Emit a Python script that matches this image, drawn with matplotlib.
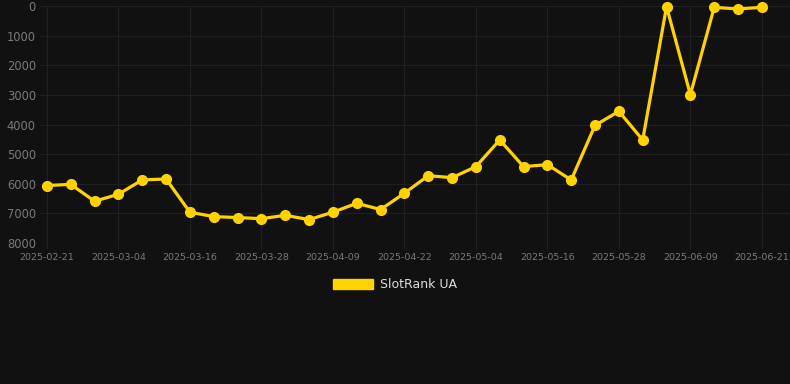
import matplotlib
matplotlib.use("Agg")
import matplotlib.pyplot as plt
from matplotlib.patches import Patch

dates = ["2025-02-21", "2025-02-25", "2025-03-01", "2025-03-04", "2025-03-08", "2025-03-12",
         "2025-03-16", "2025-03-20", "2025-03-24", "2025-03-28", "2025-04-01", "2025-04-05",
         "2025-04-09", "2025-04-13", "2025-04-18", "2025-04-22", "2025-04-26", "2025-04-30",
         "2025-05-04", "2025-05-08", "2025-05-12", "2025-05-16", "2025-05-20", "2025-05-24",
         "2025-05-28", "2025-06-01", "2025-06-05", "2025-06-09", "2025-06-13", "2025-06-17",
         "2025-06-21"]
ranks = [6060, 6020, 6590, 6355, 5870, 5840, 6960, 7110, 7140, 7180, 7065, 7210,
         6960, 6660, 6870, 6320, 5727, 5795, 5422, 4522, 5422, 5355, 5872, 4028,
         3555, 4522, 22, 2993, 45, 100, 45]
series_name = "SlotRank UA"
yticks = [0, 1000, 2000, 3000, 4000, 5000, 6000, 7000, 8000]

W, H = 790, 384
bg = "#111111"
gold = "#FFD200"
grid_c = "#202020"
tick_c = "#7a7a7a"

fig = plt.figure(figsize=(W / 100, H / 100), dpi=100, facecolor=bg)
left, right, top, bottom = 40, 790, 6, 243
ax = fig.add_axes([left / W, 1 - bottom / H, (right - left) / W, (bottom - top) / H])
ax.set_facecolor(bg)

x = list(range(len(dates)))
ax.plot(x, ranks, color=gold, lw=2.3, marker="o", ms=7, mfc=gold, mec=gold, zorder=3,
        clip_on=False)

ax.set_ylim(8000, 0)
ax.set_xlim(-0.29, 31.18)
ax.set_yticks(yticks)
ax.set_yticklabels([str(v) for v in yticks])
tick_idx = list(range(0, len(dates), 3))
ax.set_xticks(tick_idx)
ax.set_xticklabels([dates[i] for i in tick_idx])

ax.grid(True, color=grid_c, lw=0.8)
for s in ax.spines.values():
    s.set_visible(False)
ax.tick_params(axis="y", colors=tick_c, labelsize=8.3, length=0, pad=3)
ax.tick_params(axis="x", colors=grid_c, labelcolor=tick_c, labelsize=6.8, length=4, pad=3)

handle = Patch(facecolor=gold, edgecolor=gold)
leg = fig.legend([handle], [series_name], loc="center", bbox_to_anchor=(395 / W, 1 - 285 / H),
                 frameon=False, fontsize=9, labelcolor="#dddddd", handlelength=3.2,
                 handleheight=0.9, handletextpad=0.5)

fig.savefig("out.png", dpi=100, facecolor=bg)
